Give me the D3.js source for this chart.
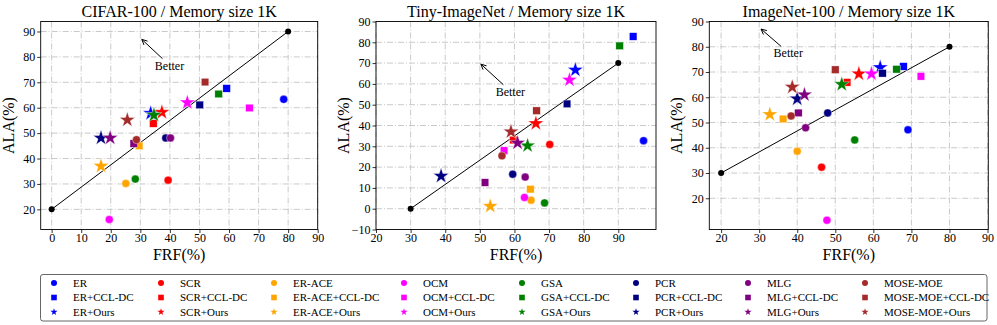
<!DOCTYPE html>
<html>
<head>
<meta charset="utf-8">
<script src="https://cdn.jsdelivr.net/npm/d3@7"></script>
<style>
  body { margin: 0; background: #fff; }
  svg { font-family: "Liberation Serif", "DejaVu Serif", serif; }
</style>
</head>
<body>
<svg id="chart"></svg>
<script>
const WIDTH = 997;
const HEIGHT = 325;

// methods in legend order, one colour each
const methods = ["ER", "SCR", "ER-ACE", "OCM", "GSA", "PCR", "MLG", "MOSE-MOE"];
const methodColors = ["#0000ff", "#ff0000", "#ffa500", "#ff00ff", "#008000", "#000080", "#800080", "#a52a2a"];
const variants = ["", "+CCL-DC", "+Ours"];
const variantShapes = ["circle", "square", "star"];

// [FRF, ALA] per method, same order as `methods`
const cifarBase = [[78.5, 63.3], [39.4, 31.5], [25.1, 30.2], [19.5, 16.0], [28.3, 31.9], [38.6, 48.1], [40.2, 48.1], [28.7, 47.4]];
const cifarCcl = [[59.2, 67.6], [34.4, 53.8], [29.6, 45.0], [66.9, 59.9], [56.5, 65.4], [50.1, 61.1], [27.8, 45.9], [51.9, 70.1]];
const cifarOurs = [[33.5, 57.8], [37.3, 58.2], [16.7, 37.0], [45.9, 62.0], [34.6, 57.1], [16.7, 48.1], [19.8, 48.1], [25.6, 55.2]];

const tinyBase = [[97.3, 32.7], [70.2, 30.9], [64.8, 4.1], [62.9, 5.4], [68.7, 2.8], [59.5, 16.6], [63.1, 15.2], [56.4, 25.4]];
const tinyCcl = [[94.3, 82.8], [59.7, 33.0], [64.6, 9.4], [57.0, 27.9], [90.4, 78.3], [75.2, 50.4], [51.5, 12.6], [66.4, 47.1]];
const tinyOurs = [[77.6, 66.7], [66.2, 41.0], [53.0, 1.2], [75.9, 61.9], [63.8, 30.3], [38.8, 15.7], [60.9, 31.6], [59.0, 37.0]];

const imagenetBase = [[69.1, 47.1], [46.4, 32.3], [40.0, 38.6], [47.8, 11.3], [55.1, 43.1], [48.0, 53.8], [42.2, 47.9], [38.4, 52.6]];
const imagenetCcl = [[67.9, 72.2], [53.1, 65.9], [36.3, 51.4], [72.5, 68.3], [66.1, 71.1], [62.4, 69.5], [40.3, 53.8], [50.0, 70.9]];
const imagenetOurs = [[61.8, 71.8], [56.2, 69.3], [32.8, 53.2], [59.5, 69.3], [51.7, 65.1], [40.0, 59.4], [41.9, 61.0], [38.7, 64.0]];

// reference diagonal and "Better" arrow (tail, head) per panel
const cifarLine = [[0, 20], [80, 90]];
const tinyLine = [[30, 0], [90, 70]];
const imagenetLine = [[20, 30], [80, 80]];
const cifarArrow = [[37.5, 79.3], [30.5, 86.9]];
const tinyArrow = [[56.8, 59.6], [50.3, 69.5]];
const imagenetArrow = [[35.8, 80.1], [30.5, 87.0]];

const xTicks1 = d3.range(0, 91, 10);
const yTicks1 = d3.range(20, 91, 10);
const xTicks2 = d3.range(20, 91, 10);
const yTicks2 = d3.range(-10, 91, 10);
const xTicks3 = d3.range(20, 91, 10);
const yTicks3 = d3.range(20, 91, 10);

const panels = [
  { title: "CIFAR-100 / Memory size 1K", left: 40.7, right: 317.7, xDomain: [-3.7, 90], yDomain: [12.07, 93.93],
    xTicks: xTicks1, yTicks: yTicks1, sets: [cifarBase, cifarCcl, cifarOurs], line: cifarLine, arrow: cifarArrow },
  { title: "Tiny-ImageNet / Memory size 1K", left: 376, right: 656, xDomain: [20, 100.9], yDomain: [-10, 90],
    xTicks: xTicks2, yTicks: yTicks2, sets: [tinyBase, tinyCcl, tinyOurs], line: tinyLine, arrow: tinyArrow },
  { title: "ImageNet-100 / Memory size 1K", left: 709.3, right: 988.3, xDomain: [16.9, 90.2], yDomain: [7.63, 90],
    xTicks: xTicks3, yTicks: yTicks3, sets: [imagenetBase, imagenetCcl, imagenetOurs], line: imagenetLine, arrow: imagenetArrow },
];
const TOP = 21.5;
const BOTTOM = 229.5;

const svg = d3.select("#chart").attr("width", WIDTH).attr("height", HEIGHT);

// d3 star: outer radius = sqrt(size * 0.8908)
function starPath(r) {
  return d3.symbol().type(d3.symbolStar).size((r * r) / 0.8908)();
}

function drawMarker(g, shape, color, size) {
  if (shape === "circle") {
    g.append("circle").attr("r", size).attr("fill", color);
  } else if (shape === "square") {
    g.append("rect").attr("x", -size).attr("y", -size).attr("width", size * 2).attr("height", size * 2).attr("fill", color);
  } else {
    g.append("path").attr("d", starPath(size)).attr("fill", color);
  }
}

panels.forEach((p) => {
  const x = d3.scaleLinear().domain(p.xDomain).range([p.left, p.right]);
  const y = d3.scaleLinear().domain(p.yDomain).range([BOTTOM, TOP]);
  const g = svg.append("g").attr("class", "panel");

  // grid
  g.append("g").selectAll("line").data(p.xTicks).join("line")
    .attr("x1", (d) => x(d)).attr("x2", (d) => x(d)).attr("y1", TOP).attr("y2", BOTTOM)
    .attr("stroke", "#c4c4c4").attr("stroke-width", 0.9).attr("stroke-dasharray", "6,2,1,2");
  g.append("g").selectAll("line").data(p.yTicks).join("line")
    .attr("y1", (d) => y(d)).attr("y2", (d) => y(d)).attr("x1", p.left).attr("x2", p.right)
    .attr("stroke", "#c4c4c4").attr("stroke-width", 0.9).attr("stroke-dasharray", "6,2,1,2");

  // axes
  const xAxis = g.append("g").attr("transform", `translate(0,${BOTTOM})`)
    .call(d3.axisBottom(x).tickValues(p.xTicks).tickSize(3.5).tickPadding(0));
  const yAxis = g.append("g").attr("transform", `translate(${p.left},0)`)
    .call(d3.axisLeft(y).tickValues(p.yTicks).tickSize(3.5).tickPadding(2));
  [xAxis, yAxis].forEach((a) => {
    a.select(".domain").remove();
    a.selectAll("text").attr("font-family", "Liberation Serif, serif").attr("font-size", 12).attr("fill", "#000");
    a.selectAll("line").attr("stroke", "#000").attr("stroke-width", 0.8);
  });

  // frame
  g.append("rect").attr("x", p.left).attr("y", TOP).attr("width", p.right - p.left).attr("height", BOTTOM - TOP)
    .attr("fill", "none").attr("stroke", "#000").attr("stroke-width", 0.9);

  // diagonal reference line
  g.append("path").datum(p.line)
    .attr("d", d3.line().x((d) => x(d[0])).y((d) => y(d[1])))
    .attr("stroke", "#000").attr("stroke-width", 1).attr("fill", "none");
  g.append("g").selectAll("circle").data(p.line).join("circle")
    .attr("cx", (d) => x(d[0])).attr("cy", (d) => y(d[1])).attr("r", 3).attr("fill", "#000");

  // "Better" arrow
  const [tail, head] = p.arrow;
  const tx = x(tail[0]), ty = y(tail[1]), hx = x(head[0]), hy = y(head[1]);
  const ang = Math.atan2(ty - hy, tx - hx);
  g.append("line").attr("x1", tx).attr("y1", ty).attr("x2", hx).attr("y2", hy)
    .attr("stroke", "#000").attr("stroke-width", 1);
  const ah = 6, aw = 0.45;
  g.append("path")
    .attr("d", `M${hx + ah * Math.cos(ang + aw)},${hy + ah * Math.sin(ang + aw)}L${hx},${hy}L${hx + ah * Math.cos(ang - aw)},${hy + ah * Math.sin(ang - aw)}`)
    .attr("stroke", "#000").attr("stroke-width", 1).attr("fill", "none");
  g.append("text").attr("x", tx + 7).attr("y", ty + 11).attr("text-anchor", "middle")
    .attr("font-size", 12).text("Better");

  // data markers: per method circle, square, star
  methods.forEach((m, mi) => {
    p.sets.forEach((set, vi) => {
      const d = set[mi];
      const mg = g.append("g").attr("transform", `translate(${x(d[0])},${y(d[1])})`)
        .attr("stroke", "#fff").attr("stroke-width", 0.4);
      drawMarker(mg, variantShapes[vi], methodColors[mi], vi === 0 ? 4 : vi === 1 ? 3.8 : 8.2);
    });
  });

  // title + axis labels
  g.append("text").attr("x", (p.left + p.right) / 2).attr("y", 17).attr("text-anchor", "middle")
    .attr("font-size", 16).text(p.title);
  g.append("text").attr("x", (p.left + p.right) / 2).attr("y", 259.5).attr("text-anchor", "middle")
    .attr("font-size", 16).text("FRF(%)");
  g.append("text").attr("transform", `translate(${p.left - 27},${(TOP + BOTTOM) / 2}) rotate(-90)`)
    .attr("text-anchor", "middle").attr("font-size", 16).text("ALA(%)");
});

// legend: columns = methods, rows = variants
const legendMarkerX = [54, 161, 274, 404, 522, 636, 748, 865];
const legendRowY = [283, 297.5, 312];
const legend = svg.append("g").attr("class", "legend");
legend.append("rect").attr("x", 40.5).attr("y", 274.5).attr("width", 946.5).attr("height", 46.5)
  .attr("rx", 2.5).attr("fill", "#fff").attr("stroke", "#555").attr("stroke-width", 0.9);
methods.forEach((m, mi) => {
  variants.forEach((v, vi) => {
    const item = legend.append("g").attr("transform", `translate(${legendMarkerX[mi]},${legendRowY[vi]})`);
    drawMarker(item, variantShapes[vi], methodColors[mi], vi === 0 ? 3 : vi === 1 ? 2.8 : 3.8);
    item.append("text").attr("x", 19).attr("y", 0).attr("dy", "0.35em")
      .attr("font-size", 11).text(m + v);
  });
});
</script>
</body>
</html>
